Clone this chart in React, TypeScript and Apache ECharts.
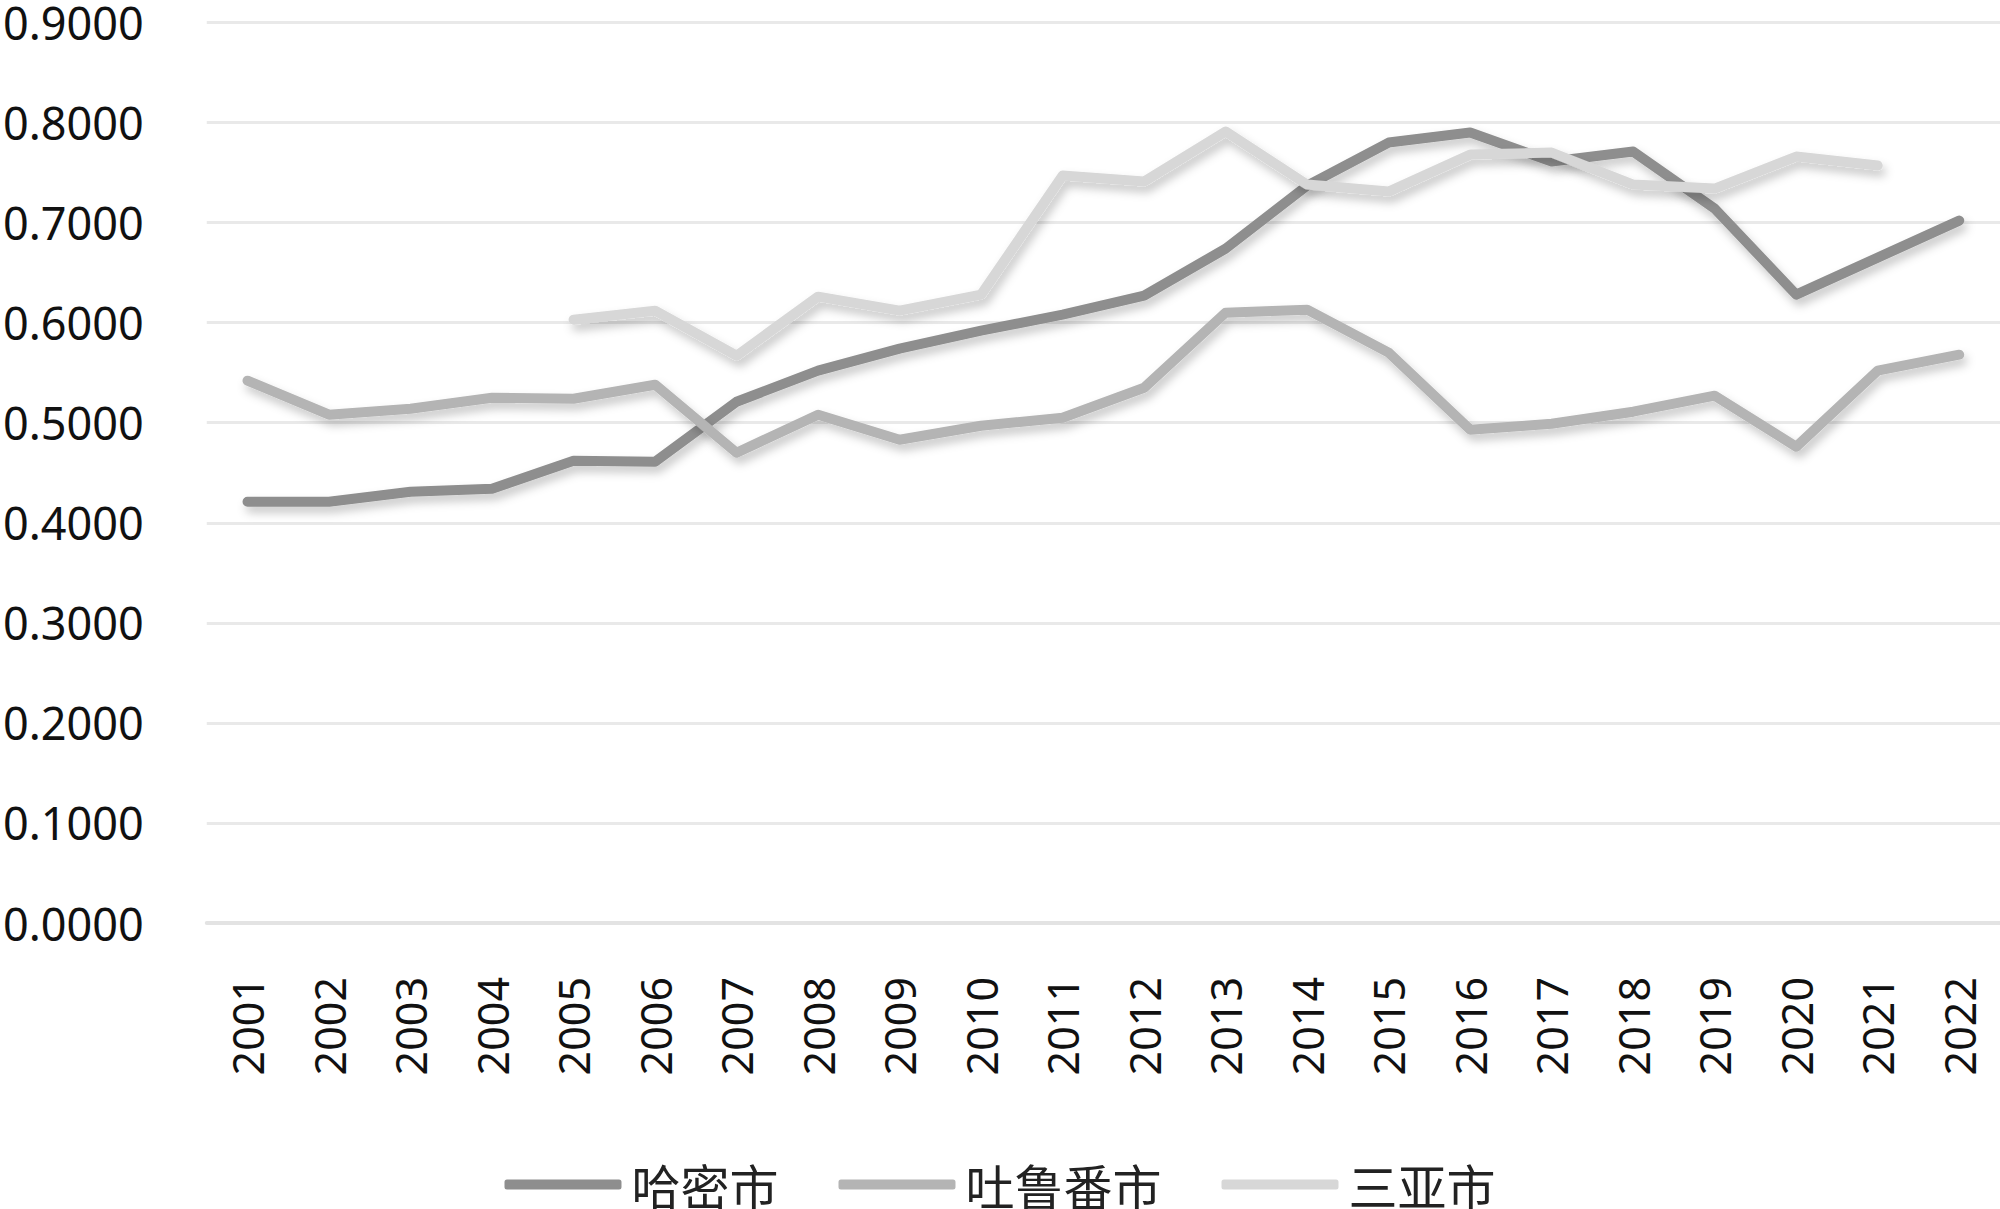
import React, { useEffect, useRef } from "react";
import * as echarts from "echarts";

const years = [
  "2001", "2002", "2003", "2004", "2005", "2006", "2007", "2008", "2009", "2010", "2011",
  "2012", "2013", "2014", "2015", "2016", "2017", "2018", "2019", "2020", "2021", "2022",
];

const hamiName = "哈密市";
const hamiValues = [
  0.421, 0.421, 0.431, 0.434, 0.462, 0.461, 0.521, 0.552, 0.574, 0.592, 0.608,
  0.627, 0.674, 0.737, 0.780, 0.790, 0.761, 0.771, 0.714, 0.628, 0.665, 0.702,
];

const turpanName = "吐鲁番市";
const turpanValues = [
  0.542, 0.508, 0.514, 0.525, 0.524, 0.538, 0.470, 0.508, 0.483, 0.497, 0.505,
  0.535, 0.610, 0.613, 0.570, 0.493, 0.499, 0.511, 0.527, 0.476, 0.552, 0.568,
];

const sanyaName = "三亚市";
const sanyaValues: (number | null)[] = [
  null, null, null, null, 0.603, 0.612, 0.567, 0.626, 0.612, 0.628, 0.747,
  0.741, 0.791, 0.738, 0.731, 0.768, 0.770, 0.738, 0.734, 0.766, 0.757, null,
];

const yTicks = { min: 0, max: 0.9, interval: 0.1 };

const colors = ["#8e8e8e", "#b4b4b4", "#d7d7d7"];

export default function App() {
  const ref = useRef<HTMLDivElement>(null);

  useEffect(() => {
    if (!ref.current) return;
    const chart = echarts.init(ref.current, undefined, { renderer: "svg" });

    const mkSeries = (name: string, data: (number | null)[], color: string) => ({
      name,
      type: "line",
      data,
      symbol: "none",
      connectNulls: false,
      lineStyle: {
        color,
        width: 10,
        cap: "round",
        join: "round",
        shadowColor: "rgba(0,0,0,0.22)",
        shadowBlur: 10,
        shadowOffsetX: 3,
        shadowOffsetY: 6,
      },
      itemStyle: { color },
    });

    chart.setOption({
      animation: false,
      backgroundColor: "#ffffff",
      textStyle: { fontFamily: "Noto Sans" },
      grid: { left: 201, right: 0, top: 16, bottom: 286, containLabel: false },
      legend: {
        left: "center",
        top: 1155,
        icon: "roundRect",
        itemWidth: 117,
        itemHeight: 10,
        itemGap: 60,
        textStyle: {
          fontFamily: "Noto Sans CJK SC",
          fontSize: 49,
          color: "#222222",
          padding: [0, 0, 0, 5],
        },
        data: [hamiName, turpanName, sanyaName],
      },
      xAxis: {
        type: "category",
        data: years,
        boundaryGap: true,
        axisLine: { show: true, lineStyle: { color: "#e3e3e3", width: 4 } },
        axisTick: { show: false },
        axisLabel: {
          rotate: 90,
          margin: 54,
          fontSize: 43,
          color: "#111111",
          fontFamily: "Noto Sans",
          interval: 0,
        },
      },
      yAxis: {
        type: "value",
        min: yTicks.min,
        max: yTicks.max,
        interval: yTicks.interval,
        axisLine: { show: false },
        axisTick: { show: false },
        splitLine: { lineStyle: { color: "#e9e9e9", width: 3 } },
        axisLabel: {
          margin: 63,
          fontSize: 45,
          color: "#111111",
          fontFamily: "Noto Sans",
          formatter: (v: number) => v.toFixed(4),
        },
      },
      series: [
        mkSeries(hamiName, hamiValues, colors[0]),
        mkSeries(turpanName, turpanValues, colors[1]),
        mkSeries(sanyaName, sanyaValues, colors[2]),
      ],
    });

    return () => chart.dispose();
  }, []);

  return (
    <div
      ref={ref}
      style={{ position: "fixed", left: 0, top: 0, width: 2000, height: 1209, background: "#fff" }}
    />
  );
}
